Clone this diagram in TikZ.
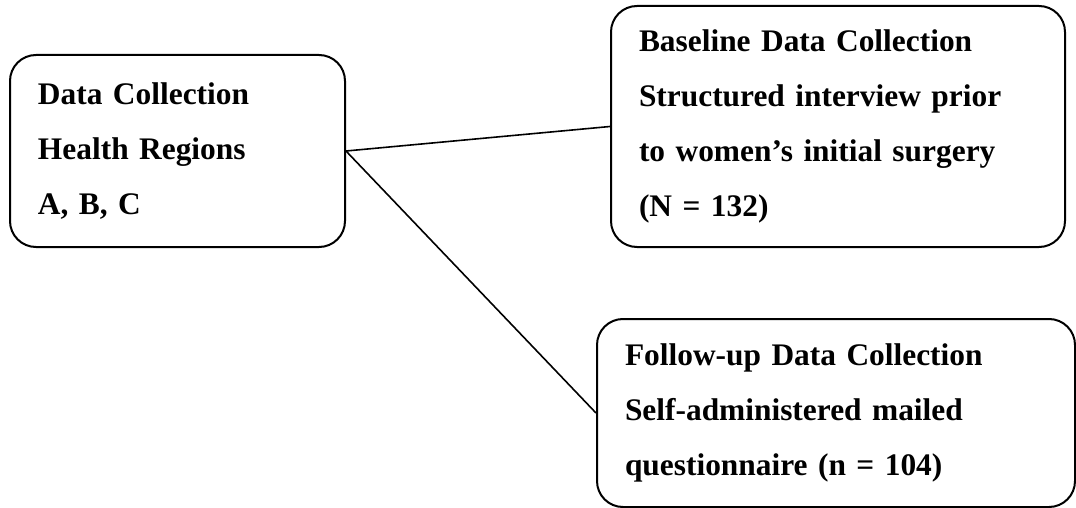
\documentclass[tikz,border=0pt]{standalone}
\usepackage{fontspec}
\setmainfont{Liberation Serif}
\tikzset{box/.style={draw, line width=1pt, rounded corners=13pt, inner xsep=14pt,
  align=left, font=\bfseries\fontsize{15.7}{27.5}\selectfont}}

\begin{document}
\begin{tikzpicture}
\useasboundingbox (0,0) rectangle (538pt,-254pt);
\node[box, text width=139.5pt, minimum height=96pt] (reg) at (88.75pt,-75.5pt)
  {Data Collection\\Health Regions\\A, B, C};
\node[box, text width=199pt, minimum height=120.5pt] (base) at (419pt,-63.25pt)
  {Baseline Data Collection\\Structured interview prior\\to women’s initial surgery\\(N = 132)};
\node[box, text width=211pt, minimum height=94pt] (follow) at (418pt,-206.5pt)
  {Follow-up Data Collection\\Self-administered mailed\\questionnaire (n = 104)};
\draw[line width=0.8pt] (reg.east) -- (base.west);
\draw[line width=0.8pt] (reg.east) -- (follow.west);
\end{tikzpicture}
\end{document}
